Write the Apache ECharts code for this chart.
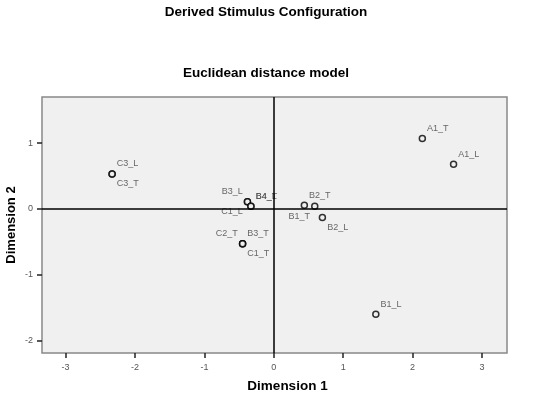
<!DOCTYPE html>
<html>
<head>
<meta charset="utf-8">
<script src="https://cdn.jsdelivr.net/npm/echarts@6/dist/echarts.min.js"></script>
<style>
  html, body { margin: 0; padding: 0; background: #fff; }
  #chart { width: 543px; height: 397px; }
</style>
</head>
<body>
<div id="chart"></div>
<script>
// stimulus coordinates
const names = ['A1_T', 'A1_L', 'C3_L', 'C3_T', 'B3_L', 'C1_L', 'B4_T', 'B4_L',
  'B2_T', 'B1_T', 'B2_L', 'C2_T', 'B3_T', 'C1_T', 'B1_L'];
const dim1 = [2.14, 2.59, -2.33, -2.33, -0.38, -0.38, -0.33, -0.33,
  0.44, 0.59, 0.70, -0.45, -0.45, -0.45, 1.47];
const dim2 = [1.07, 0.68, 0.53, 0.53, 0.11, 0.11, 0.04, 0.04,
  0.055, 0.04, -0.13, -0.53, -0.53, -0.53, -1.60];

const xTicks = [-3, -2, -1, 0, 1, 2, 3];
const yTicks = [-2, -1, 0, 1];

// where each label sits around its point (tr = top right etc.)
const corner = {
  C3_T: 'br', B3_L: 'tl', C1_L: 'bl', B1_T: 'bl', B2_L: 'br',
  C2_T: 'tl', C1_T: 'br'
};

const font = 'Arial, "Liberation Sans", sans-serif';

function labelFor(name) {
  const c = corner[name] || 'tr';
  return {
    show: true,
    formatter: name,
    position: c[1] === 'r' ? 'right' : 'left',
    distance: 1,
    offset: [0, c[0] === 't' ? -10 : 10],
    fontSize: 9,
    color: '#444',
    fontFamily: font
  };
}

const points = names.map((n, i) => ({
  value: [dim1[i], dim2[i]],
  label: labelFor(n)
}));

const chart = echarts.init(document.getElementById('chart'));
chart.setOption({
  animation: false,
  title: [
    {
      text: 'Derived Stimulus Configuration',
      left: 261, top: 0, textAlign: 'center',
      textStyle: { fontSize: 13.5, fontWeight: 'bold', color: '#000', fontFamily: font }
    },
    {
      text: 'Euclidean distance model',
      left: 261, top: 61, textAlign: 'center',
      textStyle: { fontSize: 13.5, fontWeight: 'bold', color: '#000', fontFamily: font }
    }
  ],
  grid: {
    left: 42, top: 97, right: 36, bottom: 44,
    outerBoundsMode: 'none',
    containLabel: false,
    show: true,
    backgroundColor: '#f0f0f0',
    borderColor: '#888',
    borderWidth: 1.5
  },
  xAxis: {
    type: 'value',
    min: -3.34, max: 3.36,
    name: 'Dimension 1',
    nameLocation: 'middle',
    nameGap: 26,
    nameMoveOverlap: false,
    nameTextStyle: {
      fontSize: 13.5, fontWeight: 'bold', color: '#000', fontFamily: font,
      padding: [0, 0, 0, 26]
    },
    axisLine: { show: false, onZero: false },
    splitLine: { show: false },
    axisTick: {
      show: true, length: 5, customValues: xTicks,
      lineStyle: { color: '#222', width: 1.5 }
    },
    axisLabel: {
      customValues: xTicks, margin: 10, fontSize: 9, color: '#555', fontFamily: font
    }
  },
  yAxis: {
    type: 'value',
    min: -2.19, max: 1.70,
    name: 'Dimension 2',
    nameLocation: 'middle',
    nameGap: 24,
    nameMoveOverlap: false,
    nameTextStyle: { fontSize: 13, fontWeight: 'bold', color: '#000', fontFamily: font },
    axisLine: { show: false, onZero: false },
    splitLine: { show: false },
    axisTick: {
      show: true, length: 5, customValues: yTicks,
      lineStyle: { color: '#222', width: 1.5 }
    },
    axisLabel: {
      customValues: yTicks, margin: 9, fontSize: 9, color: '#555', fontFamily: font
    }
  },
  series: [
    {
      type: 'scatter',
      symbol: 'circle',
      symbolSize: 6,
      itemStyle: { color: '#f0f0f0', borderColor: '#000', borderWidth: 1.5 },
      data: points,
      markLine: {
        silent: true,
        symbol: 'none',
        label: { show: false },
        lineStyle: { color: '#000', width: 1.5, type: 'solid' },
        data: [{ xAxis: 0 }, { yAxis: 0 }]
      },
      z: 3
    }
  ]
});
</script>
</body>
</html>
